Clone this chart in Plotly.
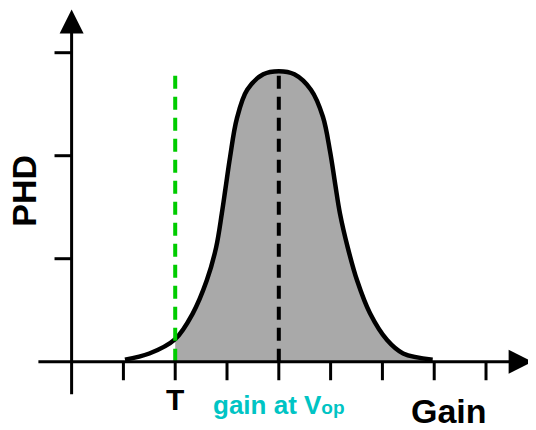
import plotly.graph_objects as go

# ---- data ----
gain_x = [1.03, 1.50, 2.00, 2.34, 2.61, 2.79, 2.90, 2.97, 3.06, 3.19, 3.39, 3.70, 4.00,
          4.30, 4.62, 4.85, 4.99, 5.09, 5.18, 5.33, 5.51, 5.76, 6.09, 6.40, 6.97]
phd_y = [0.02, 0.08, 0.22, 0.47, 0.79, 1.11, 1.44, 1.68, 1.99, 2.36, 2.64, 2.79, 2.82,
         2.79, 2.64, 2.38, 2.04, 1.72, 1.44, 1.11, 0.79, 0.47, 0.21, 0.08, 0.02]
threshold_T = 2.0
threshold_top = 2.83
gain_vop = 4.0
x_ticks = [1, 2, 3, 4, 5, 6, 7, 8]
y_ticks = [1, 2, 3]
x_axis_extent = [-0.67, 8.90]
y_axis_extent = [-0.33, 3.42]

peak_y = max(phd_y)
fill_x = [x for x in gain_x if x >= threshold_T]
fill_y = [y for x, y in zip(gain_x, phd_y) if x >= threshold_T]

FONT = "Liberation Sans, Arial, sans-serif"

fig = go.Figure()
# grey filled area right of T
fig.add_trace(go.Scatter(x=fill_x, y=fill_y, mode="lines", line=dict(width=0, shape="spline"),
                         fill="tozeroy", fillcolor="#a9a9a9", hoverinfo="skip"))
# black dashed line at gain at Vop
fig.add_trace(go.Scatter(x=[gain_vop, gain_vop], y=[0, peak_y], mode="lines",
                         line=dict(color="black", width=4, dash="13px,8px")))
# curve outline
fig.add_trace(go.Scatter(x=gain_x, y=phd_y, mode="lines",
                         line=dict(color="black", width=4.5, shape="spline")))
# green dashed threshold line
fig.add_trace(go.Scatter(x=[threshold_T, threshold_T], y=[0, threshold_top], mode="lines",
                         line=dict(color="#00cc00", width=4, dash="13px,8px")))

shapes = []
# ticks
for t in x_ticks:
    shapes.append(dict(type="line", xref="x", yref="y", x0=t, x1=t, y0=0, y1=-0.18,
                       line=dict(color="black", width=3)))
for t in y_ticks:
    shapes.append(dict(type="line", xref="x", yref="y", x0=0, x1=-0.33, y0=t, y1=t,
                       line=dict(color="black", width=3)))

annotations = [
    # axes with arrowheads
    dict(x=x_axis_extent[1], y=0, ax=x_axis_extent[0], ay=0, xref="x", yref="y",
         axref="x", ayref="y", showarrow=True, arrowhead=2, arrowsize=1.6, arrowwidth=3,
         arrowcolor="black", text=""),
    dict(x=0, y=y_axis_extent[1], ax=0, ay=y_axis_extent[0], xref="x", yref="y",
         axref="x", ayref="y", showarrow=True, arrowhead=2, arrowsize=1.6, arrowwidth=3,
         arrowcolor="black", text=""),
    dict(x=-0.92, y=1.66, xref="x", yref="y", text="PHD", showarrow=False, textangle=-90,
         borderpad=0, font=dict(family=FONT, size=34, color="black", weight="bold")),
    dict(x=threshold_T, y=-0.37, xref="x", yref="y", text="T", showarrow=False,
         font=dict(family=FONT, size=30, color="black", weight="bold")),
    dict(x=gain_vop, y=-0.42, xref="x", yref="y",
         text="gain at V<span style='font-size:19px'>op</span>", showarrow=False,
         font=dict(family=FONT, size=26, color="#00c4c4", weight="bold")),
    dict(x=7.28, y=-0.48, xref="x", yref="y", text="Gain", showarrow=False,
         font=dict(family=FONT, size=34, color="black", weight="bold")),
]

fig.update_layout(
    width=528, height=422,
    margin=dict(l=0, r=0, t=0, b=0),
    paper_bgcolor="white", plot_bgcolor="white",
    showlegend=False,
    shapes=shapes,
    annotations=annotations,
    xaxis=dict(range=[-1.228, 8.965], visible=False, fixedrange=True),
    yaxis=dict(range=[-0.663, 3.434], visible=False, fixedrange=True),
)

fig.write_html("out.html")
